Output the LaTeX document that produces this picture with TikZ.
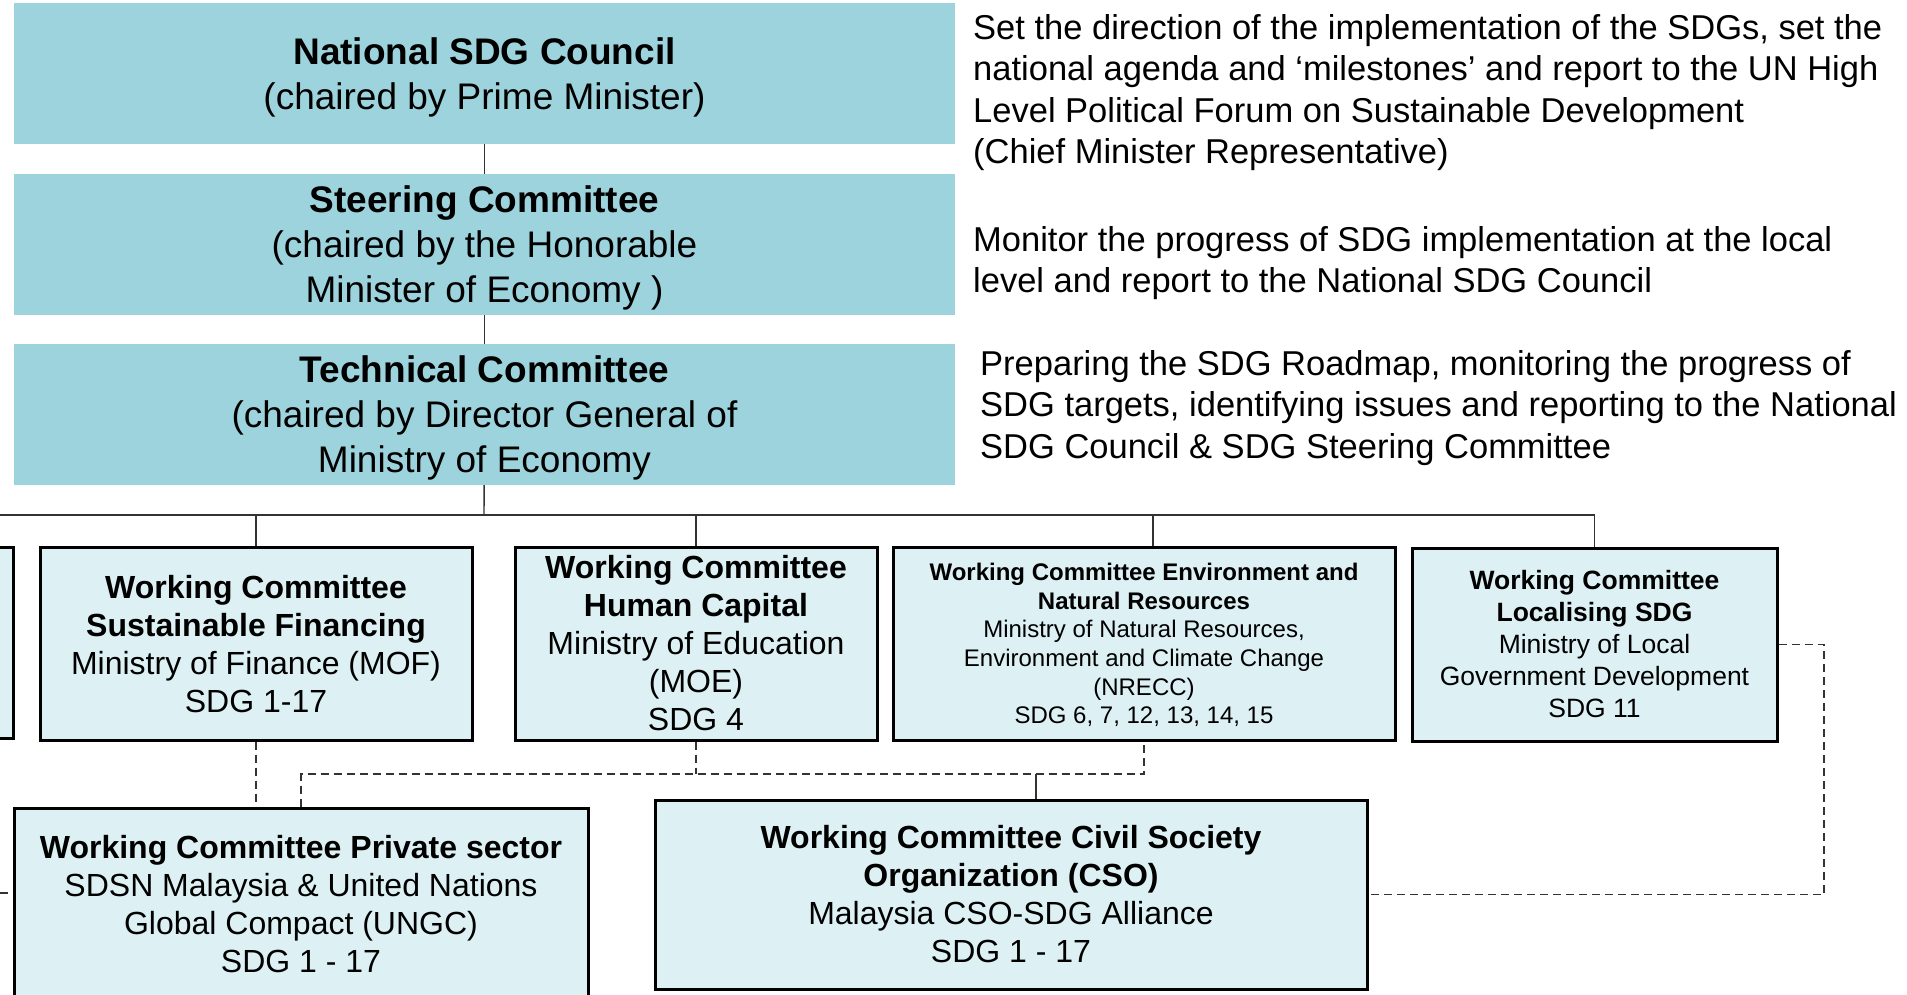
\documentclass[tikz,border=0pt]{standalone}
\usepackage{fontspec}
\setmainfont{Liberation Sans}
\definecolor{topteal}{HTML}{9DD3DC}
\definecolor{wcfill}{HTML}{DDF1F4}

\begin{document}
\begin{tikzpicture}[x=1pt,y=-1pt]
					\useasboundingbox (0,0) rectangle (1907,994);
					\fill[white] (0,0) rectangle (1907,994);
					\clip (0,0) rectangle (1907,994);
					\tikzstyle{topbox}=[rectangle,fill=topteal,minimum width=941,minimum height=141,inner sep=0pt,align=center,text depth=0pt,font=\fontsize{37}{45}\selectfont]
					\tikzstyle{wcbox}=[rectangle,draw=black,line width=3pt,fill=wcfill,inner sep=0pt,align=center,font=\fontsize{32}{38}\selectfont]
					\tikzstyle{note}=[anchor=west,align=left,inner sep=0pt,font=\fontsize{34.5}{41.3}\selectfont]
					\tikzstyle{link}=[draw=black!80,line width=1.4pt]
					\tikzstyle{dashlink}=[link,dash pattern=on 8pt off 5pt]
					% council, steering and technical levels
						\path (484.5,73.5) node[topbox] (council) {\textbf{National SDG Council}\\(chaired by Prime Minister)};
						\path (484.5,244.5) node[topbox] (steering) {\textbf{Steering Committee}\\(chaired by the Honorable\\Minister of Economy )};
						\path (484.5,414.5) node[topbox] (technical) {\textbf{Technical Committee}\\(chaired by Director General of\\Ministry of Economy};
						\path (973,92.5) node[note] (noteA) {Set the direction of the implementation of the SDGs, set the\\national agenda and `milestones' and report to the UN High\\Level Political Forum on Sustainable Development\\(Chief Minister Representative)};
						\path (973,263) node[note] (noteB) {Monitor the progress of SDG implementation at the local\\level and report to the National SDG Council};
						\path (980,408) node[note] (noteC) {Preparing the SDG Roadmap, monitoring the progress of\\SDG targets, identifying issues and reporting to the National\\SDG Council \& SDG Steering Committee};
					% working committees
						\path (-200,642.5) node[wcbox,minimum width=426,minimum height=191] (wcX) {};
						\path (256,643.5) node[wcbox,minimum width=432,minimum height=193,text depth=0pt] (finance) {\textbf{Working Committee}\\\textbf{Sustainable Financing}\\Ministry of Finance (MOF)\\SDG 1-17};
						\path (696,643.5) node[wcbox,minimum width=362,minimum height=193] (human) {\textbf{Working Committee}\\\textbf{Human Capital}\\Ministry of Education\\(MOE)\\SDG 4};
						\path (1144,643.5) node[wcbox,minimum width=502,minimum height=193,text depth=0pt,font=\fontsize{24}{28.7}\selectfont] (environ) {\textbf{Working Committee Environment and}\\\textbf{Natural Resources}\\Ministry of Natural Resources,\\Environment and Climate Change\\(NRECC)\\SDG 6, 7, 12, 13, 14, 15};
						\path (1594.5,644.5) node[wcbox,minimum width=365,minimum height=193,font=\fontsize{26.5}{32}\selectfont] (local) {\textbf{Working Committee}\\\textbf{Localising SDG}\\Ministry of Local\\Government Development\\SDG 11};
						\path (301,904) node[wcbox,minimum width=574,minimum height=192] (private) {\textbf{Working Committee Private sector}\\SDSN Malaysia \& United Nations\\Global Compact (UNGC)\\SDG 1 - 17};
						\path (1011,894.5) node[wcbox,minimum width=712,minimum height=189] (civil) {\textbf{Working Committee Civil Society}\\\textbf{Organization (CSO)}\\Malaysia CSO-SDG Alliance\\SDG 1 - 17};
					% connectors
						\coordinate (bus) at (484,515);
						\coordinate (busW) at (0,515);
						\coordinate (splitW) at (301,774);
						\coordinate (splitE) at (1144,774);
						\coordinate (civtap) at (1036,774);
						\coordinate (rimE) at (1824,770);
						\coordinate (rimW) at (0,893);
						\draw[link] (council) -- (steering);
						\draw[link] (steering) -- (technical);
						\draw[link] (technical) -- (bus);
						\draw[link] (busW) -- (bus);
						\draw[link] (bus) -| (finance);
						\draw[link] (bus) -| (human);
						\draw[link] (bus) -| ([xshift=9pt]environ.north);
						\draw[link] (bus) -| (local);
						\draw[dashlink] (finance.south) -- (finance.south |- private.north);
						\draw[dashlink] (private.north) -- (splitW) -- (splitE) -- (environ.south);
						\draw[dashlink] (human.south) -- (human.south |- splitW);
						\draw[link] (civtap) -- (civtap |- civil.north);
						\draw[dashlink] (local.east) -| (rimE) |- (civil.east);
						\draw[dashlink] (rimW) -- (rimW -| private.west);
					\end{tikzpicture}
\end{document}
